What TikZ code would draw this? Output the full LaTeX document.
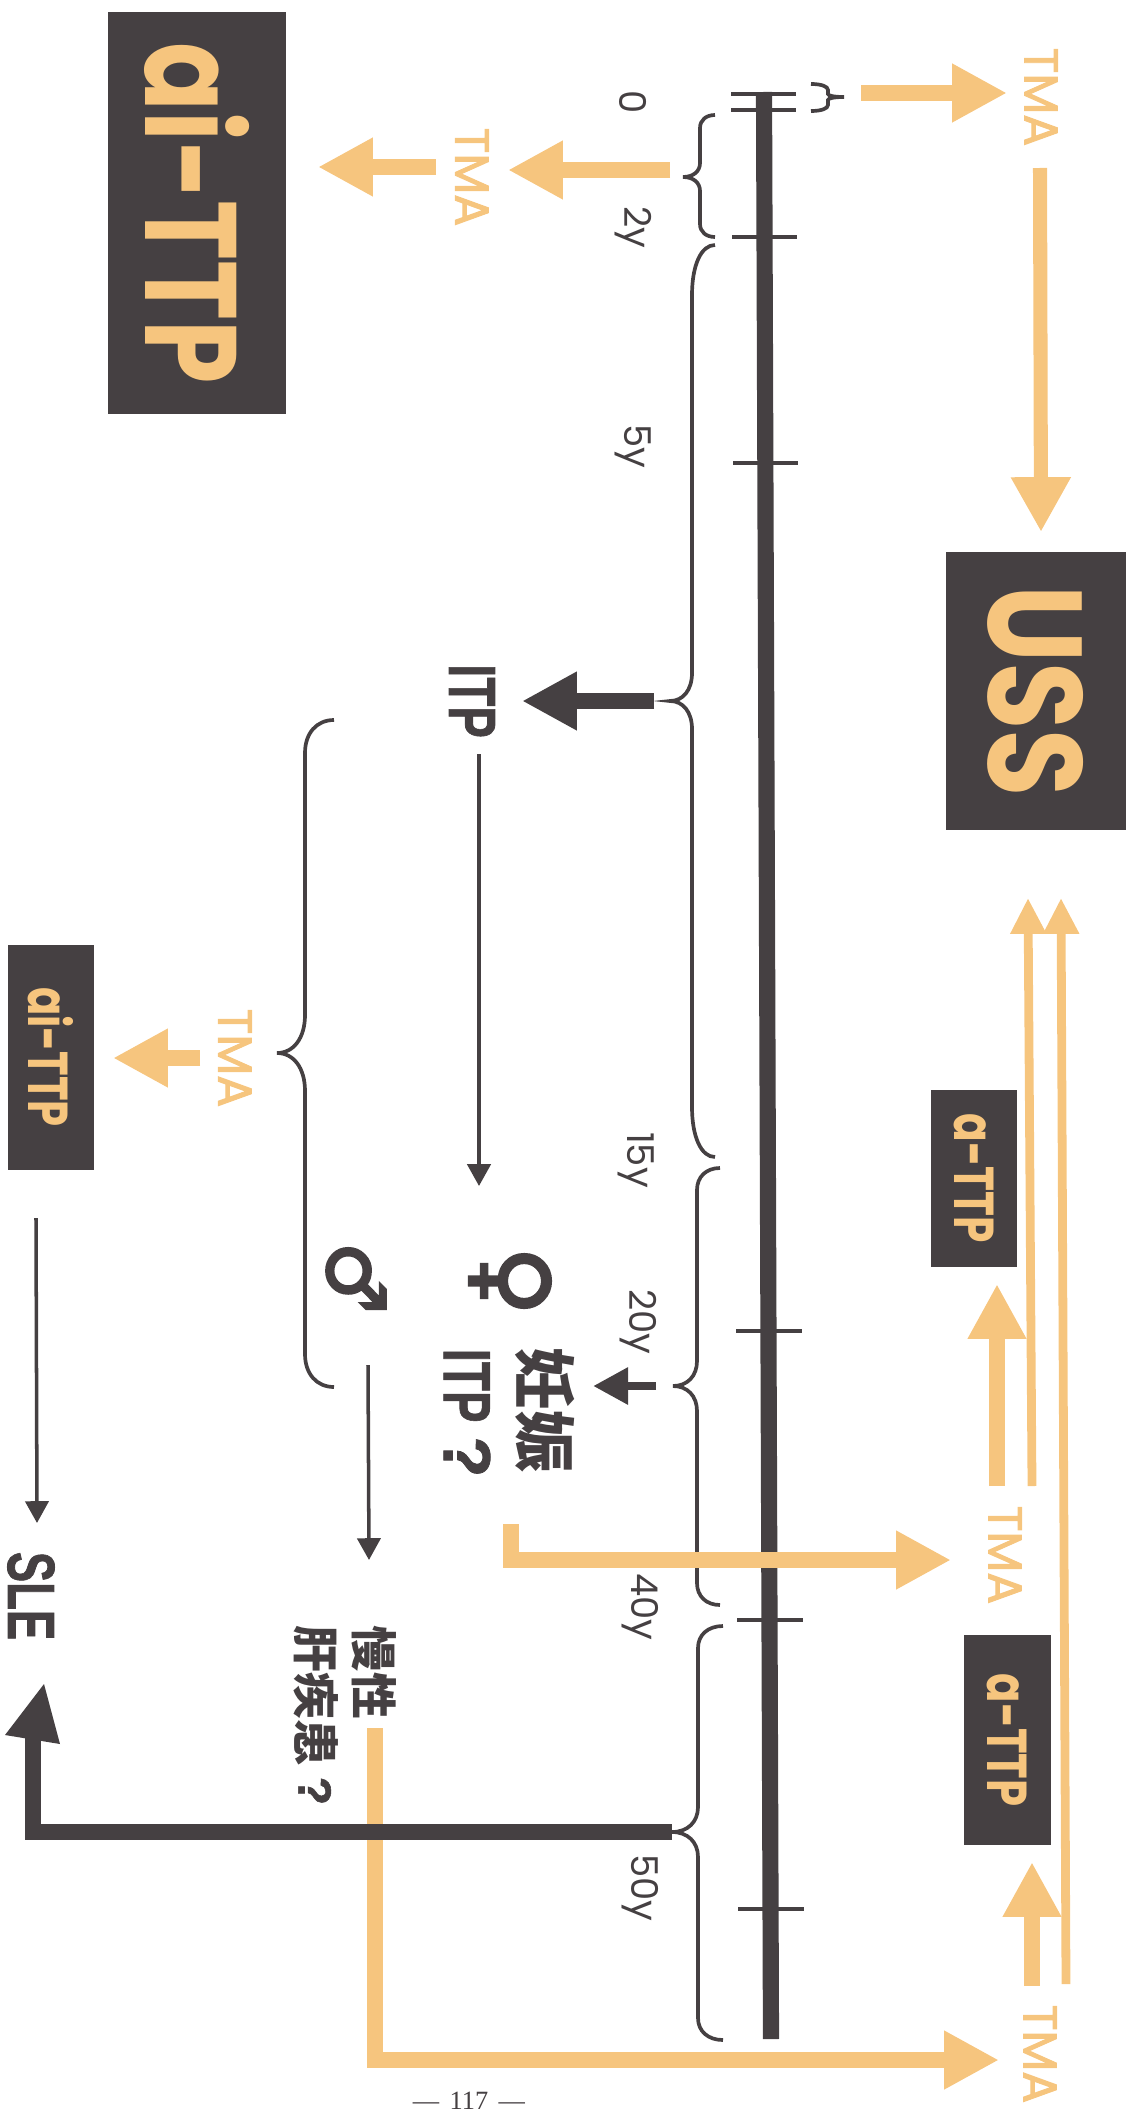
\documentclass[tikz,border=0pt]{standalone}
\usepackage{fontspec}
\usetikzlibrary{arrows.meta}
\newfontfamily\futfont{Poppins}
\newfontfamily\futmedfont{Poppins}[FakeBold=2]
\newfontfamily\labfont{Liberation Sans}[BoldFeatures={FakeBold=1.2}]
\newfontfamily\cjkfont{Noto Sans CJK JP}
\newfontfamily\symfont{DejaVu Sans}[FakeBold=3]
\newfontfamily\pagefont{Liberation Serif}
\definecolor{tmaorange}{HTML}{F6C57E}
\definecolor{darkink}{HTML}{454042}
\newcommand{\narrowed}[2]{\scalebox{#1}[1]{#2}}
\tikzset{
  fatorange/.style={draw=tmaorange,line width=4.5pt,-{Triangle[length=15.6pt,width=15.6pt]}},
  slimorange/.style={draw=tmaorange,line width=2.5pt,-{Triangle[length=10.2pt,width=9.6pt]}},
  fatdark/.style={draw=darkink,line width=4.5pt,-{Triangle[length=15.6pt,width=15.6pt]}},
  smalldark/.style={draw=darkink,line width=2.5pt,-{Triangle[length=10pt,width=10pt]}},
  thindark/.style={draw=darkink,line width=1pt,-{Triangle[length=6.2pt,width=6.6pt]}},
  curlyline/.style={draw=darkink,line width=1.05pt},
  tickline/.style={draw=darkink,line width=1.1pt},
  sidelabel/.style={rotate=-90,inner sep=0pt,text=darkink},
  tmalabel/.style={sidelabel,text=tmaorange,font=\futmedfont\fontsize{13.5}{14}\selectfont},
  yearlabel/.style={sidelabel,font=\futfont\fontsize{10.5}{12}\selectfont},
  boldlabel/.style={sidelabel,font=\labfont\bfseries\fontsize{19}{20}\selectfont},
  kanjilabel/.style={sidelabel,font=\cjkfont\bfseries\fontsize{13.3}{15}\selectfont},
  darkbox/.style={rotate=-90,fill=darkink,text=tmaorange,inner sep=0pt},
}
\begin{document}
\begin{tikzpicture}[x=0.1mm,y=-0.1mm,line cap=butt,line join=miter]
  \useasboundingbox (0,0) rectangle (1141,2120);
  % time axis
  \coordinate (axistop) at (764,92);
  \coordinate (axisend) at (771,2039);
  \draw[draw=darkink,line width=4.6pt] (axistop) -- (axisend);
  \foreach \ty/\tl/\tr in {94/731/796,110/731/796,237/732/797,463/733/798,1331/736/802,1620/737/803,1909/738/804}
    \draw[tickline] (\tl,\ty) -- (\tr,\ty);
  % braces
  \foreach \xe/\xs/\xt/\ya/\ym/\yb/\rr/\rt in {715/700/683/115/177/237/13/14,715/692/670/245/701/1157/50/28,720/697/673/1168/1386/1605/22/25,723/698/672/1626/1832/2040/22/25,334/305/277/720/1053/1387/33/38,811/828/844/84/97/111/6/3}
    \draw[curlyline] (\xe,\ya) .. controls (0.4*\xe+0.6*\xs,\ya) and (\xs,\ya+0.4*\rr) .. (\xs,\ya+\rr) -- (\xs,\ym-\rt)
      .. controls (\xs,\ym-0.4*\rt) and (0.4*\xt+0.6*\xs,\ym) .. (\xt,\ym)
      .. controls (0.4*\xt+0.6*\xs,\ym) and (\xs,\ym+0.4*\rt) .. (\xs,\ym+\rt) -- (\xs,\yb-\rr)
      .. controls (\xs,\yb-0.4*\rr) and (0.4*\xe+0.6*\xs,\yb) .. (\xe,\yb);
  % year labels
  \node[yearlabel] (yzero) at (633,102) {0};
  \node[yearlabel] (ytwo) at (633,227) {2y};
  \node[yearlabel] (yfive) at (633,446) {5y};
  \node[yearlabel] (yfifteen) at (636,1160) {15y};
  \node[yearlabel] (ytwenty) at (638,1322) {20y};
  \node[yearlabel] (yforty) at (640,1607) {40y};
  \node[yearlabel] (yfifty) at (640,1888) {50y};
  % boxes
  \node[darkbox,minimum width=27.8mm,minimum height=18mm,font=\futfont\bfseries\fontsize{38}{40}\selectfont] (ussbox) at (1036,691) {\raisebox{-1.1pt}{\narrowed{0.82}{USS}}};
  \node[darkbox,minimum width=40.1mm,minimum height=17.8mm,font=\futfont\bfseries\fontsize{37}{40}\selectfont] (aibig) at (197,213) {\narrowed{0.78}{ai-TTP}};
  \node[darkbox,minimum width=22.5mm,minimum height=8.6mm,font=\futfont\bfseries\fontsize{16}{18}\selectfont] (aismall) at (51,1057) {\narrowed{0.74}{ai-TTP}};
  \node[darkbox,minimum width=17.7mm,minimum height=8.6mm,font=\futfont\bfseries\fontsize{16}{18}\selectfont] (aone) at (974,1178) {\narrowed{0.75}{a-TTP}};
  \node[darkbox,minimum width=21mm,minimum height=8.7mm,font=\futfont\bfseries\fontsize{16}{18}\selectfont] (atwo) at (1007,1740) {\narrowed{0.77}{a-TTP}};
  % TMA labels
  \node[tmalabel] (tmatop) at (1041,97) {TMA};
  \node[tmalabel] (tmainfant) at (472,177) {TMA};
  \node[tmalabel] (tmaadult) at (235,1058) {TMA};
  \node[tmalabel] (tmaforty) at (1005,1555) {TMA};
  \node[tmalabel] (tmalast) at (1040,2054) {TMA};
  % dark labels
  \node[boldlabel] (itp) at (472,701) {\narrowed{0.71}{ITP}};
  \node[boldlabel] (itpq) at (467,1413) {\narrowed{0.71}{ITP}\hspace{4pt}?};
  \node[boldlabel] (sle) at (31,1596) {\narrowed{0.68}{SLE}};
  \node[kanjilabel,font=\cjkfont\bfseries\fontsize{17.7}{19}\selectfont] (preg) at (545,1410) {妊娠};
  \node[kanjilabel] (chronic) at (374,1672) {慢性};
  \node[kanjilabel,anchor=west] (liver) at (316,1625) {肝疾患 {\labfont ?}};
  \node[sidelabel,font=\symfont\fontsize{27}{29}\selectfont] (female) at (510,1281) {♀};
  \node[sidelabel,font=\symfont\fontsize{23}{26}\selectfont] (male) at (356,1278) {♂};
  \node[inner sep=0pt,text=darkink,font=\pagefont\fontsize{7.5}{9}\selectfont] (pageno) at (469,2101) {—\hspace{1.1pt} 117 \hspace{1.1pt}—};
  % orange arrows
  \coordinate (neonate) at (861,93);
  \coordinate (neonatetip) at (1007,93);
  \coordinate (ussin) at (1040,168);
  \coordinate (usstip) at (1041,532);
  \coordinate (infant) at (670,170);
  \coordinate (infanttip) at (508,170);
  \coordinate (infantnext) at (436,167);
  \coordinate (aibigtip) at (318,167);
  \coordinate (adult) at (200,1058);
  \coordinate (adulttip) at (113,1058);
  \coordinate (stub) at (511,1524);
  \coordinate (stubbend) at (511,1560);
  \coordinate (stubtip) at (951,1560);
  \coordinate (liverout) at (375,1728);
  \coordinate (liverbend) at (375,2060);
  \coordinate (livertip) at (999,2060);
  \coordinate (aonefrom) at (997,1486);
  \coordinate (aonetip) at (997,1284);
  \coordinate (atwofrom) at (1032,1986);
  \coordinate (atwotip) at (1032,1862);
  \coordinate (backone) at (1032,1486);
  \coordinate (backonetip) at (1028,898);
  \coordinate (backtwo) at (1066,1984);
  \coordinate (backtwotip) at (1061,898);
  \draw[fatorange] (neonate) -- (neonatetip);
  \draw[draw=tmaorange,line width=4pt,-{Triangle[length=15.6pt,width=16pt]}] (ussin) -- (usstip);
  \draw[fatorange] (infant) -- (infanttip);
  \draw[fatorange] (infantnext) -- (aibigtip);
  \draw[fatorange] (adult) -- (adulttip);
  \draw[fatorange] (stub) -- (stubbend) -- (stubtip);
  \draw[fatorange] (liverout) -- (liverbend) -- (livertip);
  \draw[fatorange] (aonefrom) -- (aonetip);
  \draw[fatorange] (atwofrom) -- (atwotip);
  \draw[slimorange] (backone) -- (backonetip);
  \draw[slimorange] (backtwo) -- (backtwotip);
  % dark arrows
  \coordinate (itpfrom) at (654,701);
  \coordinate (itptip) at (522,701);
  \coordinate (pregfrom) at (656,1386);
  \coordinate (pregtip) at (593,1386);
  \coordinate (slefrom) at (672,1832);
  \coordinate (slebend) at (33,1832);
  \coordinate (sleshaft) at (33,1735);
  \coordinate (headleft) at (5,1735);
  \coordinate (headtip) at (44,1684);
  \coordinate (headright) at (60,1744);
  \coordinate (itpdown) at (479,754);
  \coordinate (itpdowntip) at (479,1186);
  \coordinate (maledown) at (368,1365);
  \coordinate (maledowntip) at (369,1560);
  \coordinate (aidown) at (36,1218);
  \coordinate (aidowntip) at (37,1523);
  \draw[fatdark] (itpfrom) -- (itptip);
  \draw[smalldark] (pregfrom) -- (pregtip);
  \draw[draw=darkink,line width=4.5pt] (slefrom) -- (slebend) -- (sleshaft);
  \fill[darkink] (headleft) -- (headtip) -- (headright) -- cycle;
  \draw[thindark] (itpdown) -- (itpdowntip);
  \draw[thindark] (maledown) -- (maledowntip);
  \draw[thindark] (aidown) -- (aidowntip);
\end{tikzpicture}
\end{document}
